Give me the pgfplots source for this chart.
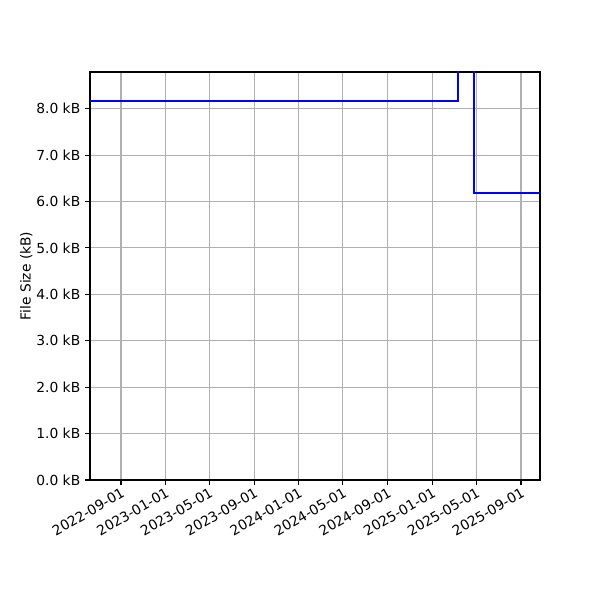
\documentclass[border=0pt]{standalone}
\usepackage{fontspec}
\setmainfont{DejaVu Sans}
\usepackage{pgfplots}
\pgfplotsset{compat=1.18}
\usepgfplotslibrary{dateplot}
\definecolor{gridc}{HTML}{B0B0B0}
\begin{document}
\begin{tikzpicture}
\path (0,0) rectangle (432bp,432bp);
\begin{axis}[
 at={(64.8bp,86.4bp)}, anchor=south west, scale only axis,
 width=324bp, height=293.76bp,
 date coordinates in=x,
 xmin=2022-06-08, xmax=2025-10-23,
 ymin=0, ymax=8.79,
 xtick={2022-09-01,2023-01-01,2023-05-01,2023-09-01,2024-01-01,2024-05-01,2024-09-01,2025-01-01,2025-05-01,2025-09-01},
 xticklabel=\year-\month-\day,
 xticklabel style={rotate=30, anchor=north east, inner sep=1pt, font=\fontsize{10}{12}\selectfont},
 ytick={0,1,...,8},
 /pgf/number format/assume math mode=true,
 yticklabel={\pgfmathprintnumber[fixed,fixed zerofill,precision=1]{\tick}~kB},
 yticklabel style={font=\fontsize{10}{12}\selectfont},
 ylabel={File Size (kB)},
 ylabel style={font=\fontsize{10}{12}\selectfont, yshift=-4bp},
 grid=major,
 grid style={color=gridc, line width=0.8pt},
 tick align=outside, tick pos=left,
 major tick length=3.5pt,
 tick style={black, line width=0.8pt},
 axis line style={line width=0.8pt},
]
\addplot[blue, line width=1.5pt, const plot] coordinates {
(2022-06-01,8.17) (2025-03-13,20) (2025-04-26,6.19) (2025-10-31,6.19)};
\end{axis}
\end{tikzpicture}
\end{document}
